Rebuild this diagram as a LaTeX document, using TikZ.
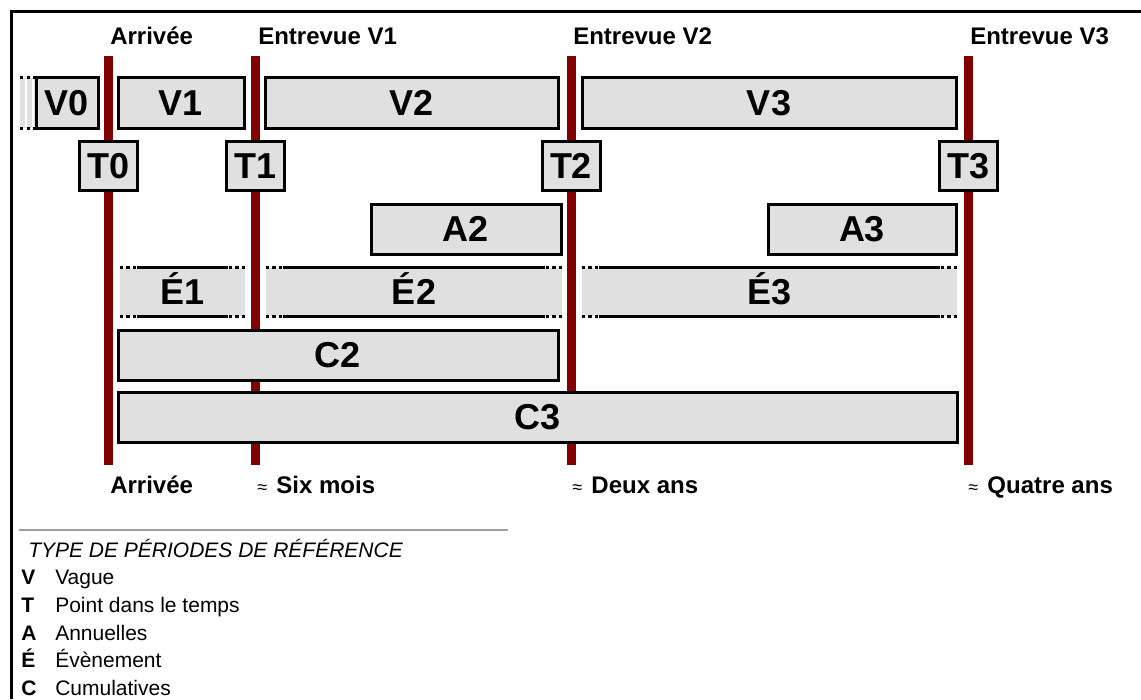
\documentclass[tikz,border=0pt]{standalone}
\usepackage{fontspec}
\setmainfont{Liberation Sans}
\definecolor{boxgray}{RGB}{224,224,224}
\definecolor{darkred}{RGB}{128,0,0}
\definecolor{rulegray}{RGB}{160,160,160}
\tikzset{
  sz/.style 2 args={minimum width=#1*0.75pt, minimum height=#2*0.75pt},
  boxlab/.style={inner sep=0pt, font=\bfseries\fontsize{27}{27}\selectfont, text height=19.3pt, text depth=0pt},
  pbox/.style={boxlab, draw=black, line width=2.25pt, fill=boxgray},
  ebox/.style={boxlab, fill=boxgray},
  eline/.style={line width=2.25pt},
  edot/.style={line width=2.25pt, dash pattern=on 2.5pt off 2.5pt},
  redline/.style={draw=darkred, line width=6.75pt},
  toplab/.style={anchor=base west, inner sep=0pt, font=\bfseries\fontsize{18}{18}\selectfont},
  legtitle/.style={anchor=base west, inner sep=0pt, font=\itshape\fontsize{15.75}{16}\selectfont},
  legkey/.style={anchor=base west, inner sep=0pt, font=\bfseries\fontsize{15.75}{16}\selectfont},
  legtext/.style={anchor=base west, inner sep=0pt, font=\fontsize{15.75}{16}\selectfont},
}
\newcommand{\approxsign}{{\mdseries\fontsize{13.5}{13.5}\selectfont ≈}\hspace{7pt}}
\begin{document}
\begin{tikzpicture}[x=0.75pt,y=-0.75pt]
\useasboundingbox (0,0) rectangle (1141,699);
\fill[white] (0,0) rectangle (1141,699);
% frame
\draw[line width=2.25pt] (11,699) -- (11,12) -- (1141,12);

% time lines
\coordinate (L0t) at (108.5,56); \coordinate (L0b) at (108.5,465);
\coordinate (L1t) at (255.5,56); \coordinate (L1b) at (255.5,465);
\coordinate (L2t) at (571,56);   \coordinate (L2b) at (571,465);
\coordinate (L3t) at (968,56);   \coordinate (L3b) at (968,465);
\draw[redline] (L0t) -- (L0b);
\draw[redline] (L1t) -- (L1b);
\draw[redline] (L2t) -- (L2b);
\draw[redline] (L3t) -- (L3b);

% top labels
\node[toplab] (topA)  at (110,45) {Arrivée};
\node[toplab] (topV1) at (258,45) {Entrevue V1};
\node[toplab] (topV2) at (573,45) {Entrevue V2};
\node[toplab] (topV3) at (970,45) {Entrevue V3};

% V0 left open extension
\fill[boxgray] (20,78) rectangle (37,128);
\draw[white, line width=0.9pt] (26,79) -- (26,127);
\draw[white, line width=0.9pt] (33,79) -- (33,127);
\coordinate (V0ext1) at (20,78); \coordinate (V0ext2) at (37,78);
\coordinate (V0ext3) at (20,128); \coordinate (V0ext4) at (37,128);
\draw[edot] (V0ext1) -- (V0ext2);
\draw[edot] (V0ext3) -- (V0ext4);

% V boxes
\node[pbox, sz={62}{50}]  (V0) at (67,103)    {V0};
\node[pbox, sz={126}{50}] (V1) at (181,103)   {V1};
\node[pbox, sz={293}{50}] (V2) at (411.5,103) {V2};
\node[pbox, sz={374}{50}] (V3) at (769,103)   {V3};

% T boxes
\node[pbox, sz={58}{49}] (T0) at (108.5,166) {T0};
\node[pbox, sz={58}{49}] (T1) at (255.5,166) {T1};
\node[pbox, sz={58}{49}] (T2) at (571,166)   {T2};
\node[pbox, sz={58}{49}] (T3) at (968,166)   {T3};

% A boxes
\node[pbox, sz={190}{50}] (A2) at (466,229) {A2};
\node[pbox, sz={188}{50}] (A3) at (862,229) {A3};

% E boxes
\node[ebox, sz={125}{48}] (E1) at (182.5,292) {É1};
\node[ebox, sz={296}{48}] (E2) at (414,292)   {É2};
\node[ebox, sz={375}{48}] (E3) at (769.5,292) {É3};
\foreach \e in {E1,E2,E3}{
  \draw[edot] (\e.north west) -- ++(17,0);
  \draw[edot] (\e.north east) -- ++(-17,0);
  \draw[edot] (\e.south west) -- ++(17,0);
  \draw[edot] (\e.south east) -- ++(-17,0);
  \draw[eline] ([shift={(17,0)}]\e.north west) -- ([shift={(-17,0)}]\e.north east);
  \draw[eline] ([shift={(17,0)}]\e.south west) -- ([shift={(-17,0)}]\e.south east);
}

% C boxes
\node[pbox, sz={440}{50}] (C2) at (338,355)   {C2};
\node[pbox, sz={839}{50}] (C3) at (537.5,417) {C3};

% bottom labels
\node[toplab] (botA)  at (110,493) {Arrivée};
\node[toplab] (bot1)  at (257,493) {\approxsign Six mois};
\node[toplab] (bot2)  at (572,493) {\approxsign Deux ans};
\node[toplab] (bot3)  at (968,493) {\approxsign Quatre ans};

% legend
\coordinate (R1) at (19,530); \coordinate (R2) at (508,530);
\draw[rulegray, line width=1.2pt] (R1) -- (R2);
\node[legtitle] (lt) at (28,557) {TYPE DE PÉRIODES DE RÉFÉRENCE};
\node[legkey] (kV) at (21,584) {V}; \node[legtext] (tV) at (55,584) {Vague};
\node[legkey] (kT) at (21,612) {T}; \node[legtext] (tT) at (55,612) {Point dans le temps};
\node[legkey] (kA) at (21,640) {A}; \node[legtext] (tA) at (55,640) {Annuelles};
\node[legkey] (kE) at (21,667) {É}; \node[legtext] (tE) at (55,667) {Évènement};
\node[legkey] (kC) at (21,695) {C}; \node[legtext] (tC) at (55,695) {Cumulatives};
\end{tikzpicture}
\end{document}
